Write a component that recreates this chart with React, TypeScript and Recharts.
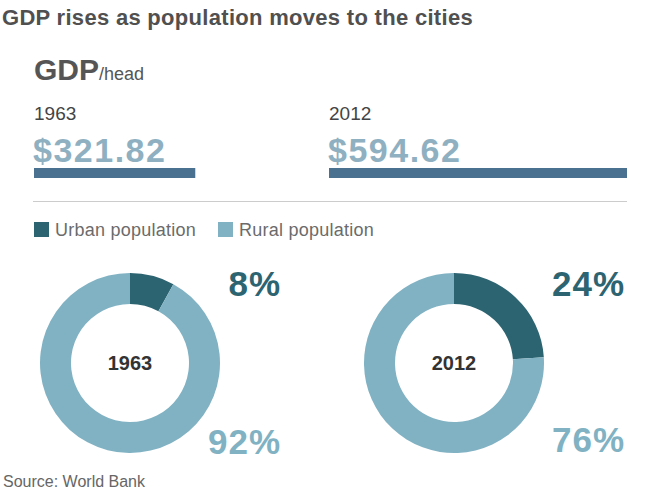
import { BarChart, Bar, XAxis, YAxis, PieChart, Pie, Cell, Label } from 'recharts'

// data
const years = ['1963', '2012']
const gdpPerHead = [321.82, 594.62]
const urbanShare = [8, 24]
const ruralShare = [92, 76]
const seriesNames = ['Urban population', 'Rural population']

const URBAN = '#2d6471'
const RURAL = '#80b2c3'
const BAR = '#4b7191'
const VALUE = '#8fb0c1'
const FONT = '"Liberation Sans", Arial, sans-serif'

const maxGdp = Math.max(...gdpPerHead)

function GdpBar({ year, value }: { year: string; value: number }) {
    const data = [{ year, gdp: value }]
    return (
        <BarChart width={298} height={10} data={data} layout="vertical"
            margin={{ top: 0, right: 0, bottom: 0, left: 0 }} barCategoryGap={0}>
            <XAxis type="number" domain={[0, maxGdp]} hide />
            <YAxis type="category" dataKey="year" hide />
            <Bar dataKey="gdp" fill={BAR} isAnimationActive={false} />
        </BarChart>
    )
}

function Donut({ i }: { i: number }) {
    const data = [
        { name: seriesNames[0], value: urbanShare[i] },
        { name: seriesNames[1], value: ruralShare[i] },
    ]
    return (
        <PieChart width={200} height={200} margin={{ top: 0, right: 0, bottom: 0, left: 0 }}>
            <Pie data={data} dataKey="value" cx={100} cy={100}
                innerRadius={59} outerRadius={90} startAngle={90} endAngle={-270}
                stroke="none" isAnimationActive={false}>
                <Cell fill={URBAN} />
                <Cell fill={RURAL} />
                <Label value={years[i]} position="center" fill="#333"
                    style={{ fontSize: 20, fontWeight: 'bold', fontFamily: FONT }} />
            </Pie>
        </PieChart>
    )
}

export default function App() {
    const colsX = [34, 329]
    const donutCx = [130, 454]
    const pctRight = [281, 625]

    return (
        <div style={{ position: 'absolute', left: 0, top: 0, width: 660, height: 493, background: '#fff', fontFamily: FONT }}>
            {/* bars */}
            {years.map((y, i) => (
                <div key={y} style={{ position: 'absolute', left: colsX[i], top: 168 }}>
                    <GdpBar year={y} value={gdpPerHead[i]} />
                </div>
            ))}

            {/* donuts */}
            {years.map((y, i) => (
                <div key={'d' + y} style={{ position: 'absolute', left: donutCx[i] - 100, top: 263 }}>
                    <Donut i={i} />
                </div>
            ))}

            {/* text layer */}
            <svg width={660} height={493} style={{ position: 'absolute', left: 0, top: 0, pointerEvents: 'none' }}
                fontFamily={FONT}>
                <text x={2} y={25} fontSize={22} fontWeight="bold" fill="#505050" letterSpacing={0.3}>
                    GDP rises as population moves to the cities
                </text>
                <text x={34} y={80} fill="#555">
                    <tspan fontSize={30} fontWeight="bold">GDP</tspan>
                    <tspan fontSize={18}>/head</tspan>
                </text>

                {years.map((y, i) => (
                    <g key={'t' + y}>
                        <text x={colsX[i]} y={120} fontSize={19} fill="#444">{y}</text>
                        <text x={colsX[i] - 1} y={162} fontSize={34} fontWeight="bold" fill={VALUE} letterSpacing={1.5}>
                            ${gdpPerHead[i].toFixed(2)}
                        </text>
                    </g>
                ))}

                <line x1={33} x2={627} y1={201.5} y2={201.5} stroke="#cccccc" strokeWidth={1} />

                {/* legend */}
                <rect x={34} y={222} width={15} height={15} fill={URBAN} />
                <text x={55} y={236} fontSize={18} fill="#6b6b6b" letterSpacing={0.25}>{seriesNames[0]}</text>
                <rect x={218} y={222} width={15} height={15} fill={RURAL} />
                <text x={239} y={236} fontSize={18} fill="#6b6b6b" letterSpacing={0.25}>{seriesNames[1]}</text>

                {/* percentages */}
                {years.map((y, i) => (
                    <g key={'p' + y}>
                        <text x={pctRight[i]} y={296} textAnchor="end" fontSize={35} fontWeight="bold" fill={URBAN} letterSpacing={1}>
                            {urbanShare[i]}%
                        </text>
                        <text x={pctRight[i]} y={i === 0 ? 454 : 452} textAnchor="end" fontSize={35} fontWeight="bold" fill={RURAL} letterSpacing={1}>
                            {ruralShare[i]}%
                        </text>
                    </g>
                ))}

                <text x={3} y={487} fontSize={16} fill="#666">Source: World Bank</text>
            </svg>
        </div>
    )
}
